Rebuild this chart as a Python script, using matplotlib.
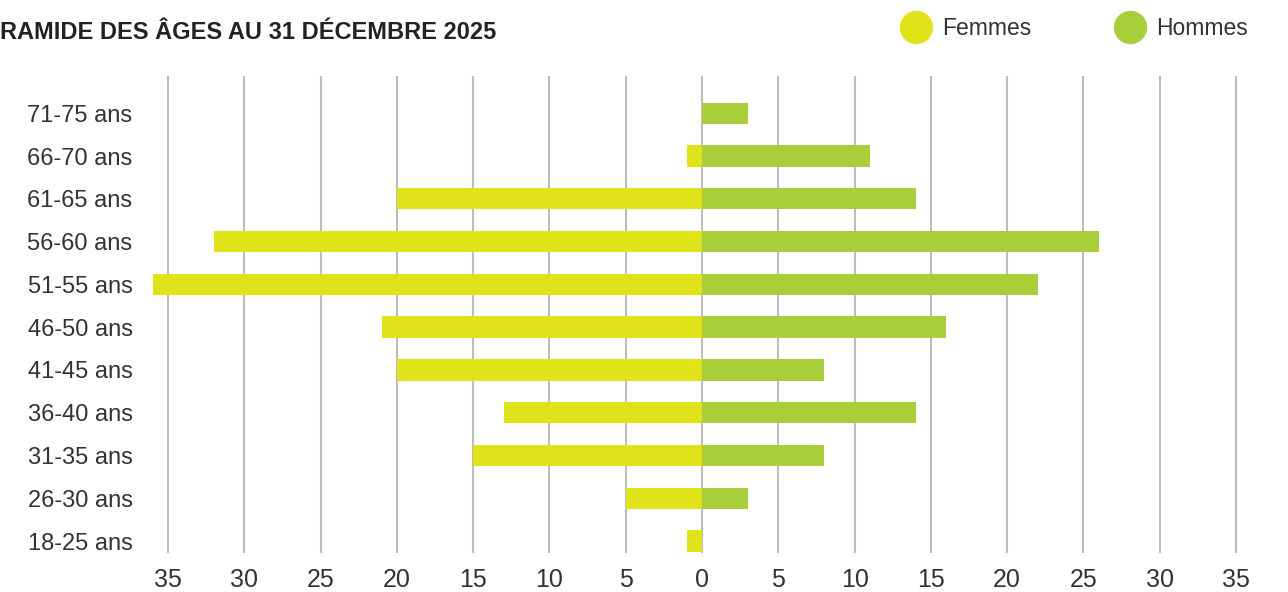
import matplotlib
matplotlib.use("Agg")
import matplotlib.pyplot as plt
from matplotlib.lines import Line2D
import numpy as np

plt.rcParams['font.family'] = ['Liberation Sans', 'DejaVu Sans']

ages = ["18-25 ans", "26-30 ans", "31-35 ans", "36-40 ans", "41-45 ans", "46-50 ans",
        "51-55 ans", "56-60 ans", "61-65 ans", "66-70 ans", "71-75 ans"]
femmes = [1, 5, 15, 13, 20, 21, 36, 32, 20, 1, 0]
hommes = [0, 3, 8, 14, 8, 16, 22, 26, 14, 11, 3]
ticks = [-35, -30, -25, -20, -15, -10, -5, 0, 5, 10, 15, 20, 25, 30, 35]

col_f = "#E1E31A"
col_h = "#A8CF3A"
txt = "#333333"

fig = plt.figure(figsize=(12.88, 5.92), dpi=100)
ax = fig.add_axes([0.1126, 0.0659, 0.853, 0.8057])

y = np.arange(len(ages))
ax.barh(y, -np.array(femmes), height=0.5, color=col_f, zorder=3)
ax.barh(y, hommes, height=0.5, color=col_h, zorder=3)

ax.set_xlim(-36.5, 35.5)
ax.set_ylim(-0.28, 10.87)
ax.set_xticks(ticks)
ax.set_xticklabels([str(abs(t)) for t in ticks])
ax.set_yticks(y)
ax.set_yticklabels(ages)
ax.grid(axis='x', color='#BDBDBD', lw=1.5, zorder=0)
ax.grid(axis='y', visible=False)
ax.tick_params(axis='x', length=0, pad=11, labelsize=18, labelcolor=txt)
ax.tick_params(axis='y', length=0, pad=9, labelsize=17, labelcolor=txt)
for s in ax.spines.values():
    s.set_visible(False)

fig.text(0.0, 0.945, "RAMIDE DES ÂGES AU 31 DÉCEMBRE 2025", fontsize=17, fontweight='bold',
         color="#222222", ha='left', va='center')

handles = [Line2D([], [], marker='o', ls='', color=col_f, markersize=23),
           Line2D([], [], marker='o', ls='', color=col_h, markersize=23)]
fig.legend(handles, ["Femmes", "Hommes"], loc='center right', bbox_to_anchor=(0.969, 0.952),
           ncol=2, frameon=False, fontsize=16.5, labelcolor=txt, handlelength=1.4,
           handletextpad=0.45, columnspacing=3.6, borderaxespad=0, borderpad=0)

fig.savefig("out.png", dpi=100)
